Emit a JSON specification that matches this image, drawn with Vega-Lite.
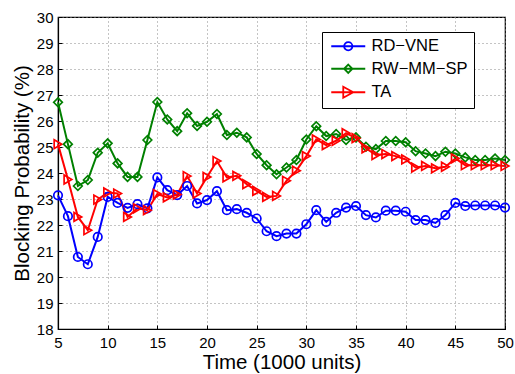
{
  "$schema": "https://vega.github.io/schema/vega-lite/v6.json",
  "width": 447,
  "height": 312,
  "autosize": {"type": "none"},
  "padding": {"left": 58, "top": 17, "right": 10, "bottom": 45},
  "background": "white",
  "config": {
    "font": "Liberation Sans",
    "view": {"stroke": "black", "strokeWidth": 1.2},
    "axis": {
      "domainColor": "black",
      "domainWidth": 1.2,
      "tickColor": "black",
      "tickSize": -4,
      "labelColor": "black",
      "labelFontSize": 15,
      "titleColor": "black",
      "titleFontSize": 20.5,
      "titleFontWeight": "normal",
      "grid": true,
      "gridColor": "#888888",
      "gridDash": [1, 3],
      "gridWidth": 1
    },
    "legend": {
      "title": null,
      "orient": "none",
      "legendX": 264,
      "legendY": 15,
      "strokeColor": "black",
      "fillColor": "white",
      "padding": 6,
      "rowPadding": 5.5,
      "symbolSize": 100,
      "symbolStrokeWidth": 1.8,
      "labelFontSize": 16.5,
      "labelColor": "black",
      "labelOffset": 27
    }
  },
  "data": {
    "values": [
      {"t": 5, "RD-VNE": 23.14, "RW-MM-SP": 26.72, "TA": 25.11},
      {"t": 6, "RD-VNE": 22.34, "RW-MM-SP": 25.11, "TA": 23.75},
      {"t": 7, "RD-VNE": 20.77, "RW-MM-SP": 23.50, "TA": 22.31},
      {"t": 8, "RD-VNE": 20.49, "RW-MM-SP": 23.73, "TA": 21.80},
      {"t": 9, "RD-VNE": 21.54, "RW-MM-SP": 24.78, "TA": 22.98},
      {"t": 10, "RD-VNE": 23.08, "RW-MM-SP": 25.14, "TA": 23.25},
      {"t": 11, "RD-VNE": 22.85, "RW-MM-SP": 24.37, "TA": 23.21},
      {"t": 12, "RD-VNE": 22.66, "RW-MM-SP": 23.85, "TA": 22.31},
      {"t": 13, "RD-VNE": 22.80, "RW-MM-SP": 23.85, "TA": 22.64},
      {"t": 14, "RD-VNE": 22.64, "RW-MM-SP": 25.27, "TA": 22.57},
      {"t": 15, "RD-VNE": 23.83, "RW-MM-SP": 26.73, "TA": 23.19},
      {"t": 16, "RD-VNE": 23.34, "RW-MM-SP": 26.06, "TA": 23.06},
      {"t": 17, "RD-VNE": 23.15, "RW-MM-SP": 25.61, "TA": 23.17},
      {"t": 18, "RD-VNE": 23.50, "RW-MM-SP": 26.30, "TA": 23.88},
      {"t": 19, "RD-VNE": 22.83, "RW-MM-SP": 25.81, "TA": 23.21},
      {"t": 20, "RD-VNE": 22.96, "RW-MM-SP": 25.97, "TA": 23.85},
      {"t": 21, "RD-VNE": 23.30, "RW-MM-SP": 26.27, "TA": 24.46},
      {"t": 22, "RD-VNE": 22.57, "RW-MM-SP": 25.46, "TA": 23.83},
      {"t": 23, "RD-VNE": 22.61, "RW-MM-SP": 25.55, "TA": 23.89},
      {"t": 24, "RD-VNE": 22.47, "RW-MM-SP": 25.37, "TA": 23.57},
      {"t": 25, "RD-VNE": 22.25, "RW-MM-SP": 24.73, "TA": 23.31},
      {"t": 26, "RD-VNE": 21.76, "RW-MM-SP": 24.30, "TA": 23.08},
      {"t": 27, "RD-VNE": 21.57, "RW-MM-SP": 23.95, "TA": 23.12},
      {"t": 28, "RD-VNE": 21.67, "RW-MM-SP": 24.21, "TA": 23.70},
      {"t": 29, "RD-VNE": 21.67, "RW-MM-SP": 24.50, "TA": 24.09},
      {"t": 30, "RD-VNE": 22.03, "RW-MM-SP": 25.29, "TA": 24.65},
      {"t": 31, "RD-VNE": 22.57, "RW-MM-SP": 25.80, "TA": 25.29},
      {"t": 32, "RD-VNE": 22.12, "RW-MM-SP": 25.42, "TA": 25.07},
      {"t": 33, "RD-VNE": 22.47, "RW-MM-SP": 25.50, "TA": 25.24},
      {"t": 34, "RD-VNE": 22.67, "RW-MM-SP": 25.27, "TA": 25.53},
      {"t": 35, "RD-VNE": 22.73, "RW-MM-SP": 25.37, "TA": 25.34},
      {"t": 36, "RD-VNE": 22.38, "RW-MM-SP": 25.01, "TA": 24.95},
      {"t": 37, "RD-VNE": 22.29, "RW-MM-SP": 24.92, "TA": 24.69},
      {"t": 38, "RD-VNE": 22.55, "RW-MM-SP": 25.23, "TA": 24.73},
      {"t": 39, "RD-VNE": 22.55, "RW-MM-SP": 25.23, "TA": 24.65},
      {"t": 40, "RD-VNE": 22.51, "RW-MM-SP": 25.18, "TA": 24.52},
      {"t": 41, "RD-VNE": 22.19, "RW-MM-SP": 24.84, "TA": 24.21},
      {"t": 42, "RD-VNE": 22.19, "RW-MM-SP": 24.75, "TA": 24.27},
      {"t": 43, "RD-VNE": 22.08, "RW-MM-SP": 24.65, "TA": 24.18},
      {"t": 44, "RD-VNE": 22.38, "RW-MM-SP": 24.82, "TA": 24.24},
      {"t": 45, "RD-VNE": 22.85, "RW-MM-SP": 24.75, "TA": 24.56},
      {"t": 46, "RD-VNE": 22.73, "RW-MM-SP": 24.60, "TA": 24.30},
      {"t": 47, "RD-VNE": 22.75, "RW-MM-SP": 24.50, "TA": 24.30},
      {"t": 48, "RD-VNE": 22.75, "RW-MM-SP": 24.50, "TA": 24.30},
      {"t": 49, "RD-VNE": 22.75, "RW-MM-SP": 24.56, "TA": 24.30},
      {"t": 50, "RD-VNE": 22.67, "RW-MM-SP": 24.50, "TA": 24.27}
    ]
  },
  "transform": [{"fold": ["RD-VNE", "RW-MM-SP", "TA"], "as": ["series", "value"]}],
  "encoding": {
    "x": {
      "field": "t", "type": "quantitative",
      "scale": {"domain": [5, 50], "nice": false},
      "axis": {"values": [5, 10, 15, 20, 25, 30, 35, 40, 45, 50], "title": "Time (1000 units)", "labelPadding": 10, "titlePadding": 2, "labelFlush": false}
    },
    "y": {
      "field": "value", "type": "quantitative",
      "scale": {"domain": [18, 30], "nice": false},
      "axis": {"values": [18, 19, 20, 21, 22, 23, 24, 25, 26, 27, 28, 29, 30], "title": "Blocking Probability (%)", "labelPadding": 9, "titlePadding": 4}
    },
    "color": {
      "field": "series", "type": "nominal",
      "scale": {"domain": ["RD-VNE", "RW-MM-SP", "TA"], "range": ["#0000ff", "#008000", "#ff0000"]},
      "legend": null
    }
  },
  "layer": [
    {"mark": {"type": "line", "strokeWidth": 2}},
    {
      "mark": {"type": "point", "filled": false, "strokeWidth": 1.7, "opacity": 1},
      "encoding": {
        "shape": {"field": "series", "type": "nominal", "scale": {"domain": ["RD-VNE", "RW-MM-SP", "TA"], "range": ["circle", "diamond", "triangle-right"]}, "legend": null},
        "size": {"field": "series", "type": "ordinal", "scale": {"domain": ["RD-VNE", "RW-MM-SP", "TA"], "range": [72, 78, 120]}, "legend": null}
      }
    },
    {
      "mark": {"type": "point", "filled": false, "opacity": 0},
      "encoding": {
        "color": {
          "field": "series", "type": "nominal",
          "scale": {"domain": ["RD-VNE", "RW-MM-SP", "TA"], "range": ["#0000ff", "#008000", "#ff0000"]},
          "legend": {
            "labelExpr": "replace(datum.label, /-/g, '\u2212')",
            "encode": {"symbols": {"opacity": {"value": 1}, "strokeOpacity": {"value": 1}}}
          }
        },
        "shape": {
          "field": "series", "type": "nominal",
          "scale": {"domain": ["RD-VNE", "RW-MM-SP", "TA"], "range": [
            "M-1,0H5.8M3.23,0A0.83,0.83,0,1,1,1.57,0A0.83,0.83,0,1,1,3.23,0",
            "M-1,0H5.8M2.4,-0.84L3.24,0L2.4,0.84L1.56,0Z",
            "M-1,0H5.8M1.4,-1.1L3.4,0L1.4,1.1Z"
          ]},
          "legend": {
            "labelExpr": "replace(datum.label, /-/g, '\u2212')",
            "encode": {"symbols": {"opacity": {"value": 1}, "strokeOpacity": {"value": 1}}}
          }
        }
      }
    }
  ],
  "resolve": {"scale": {"shape": "independent", "size": "independent", "color": "independent"}}
}
